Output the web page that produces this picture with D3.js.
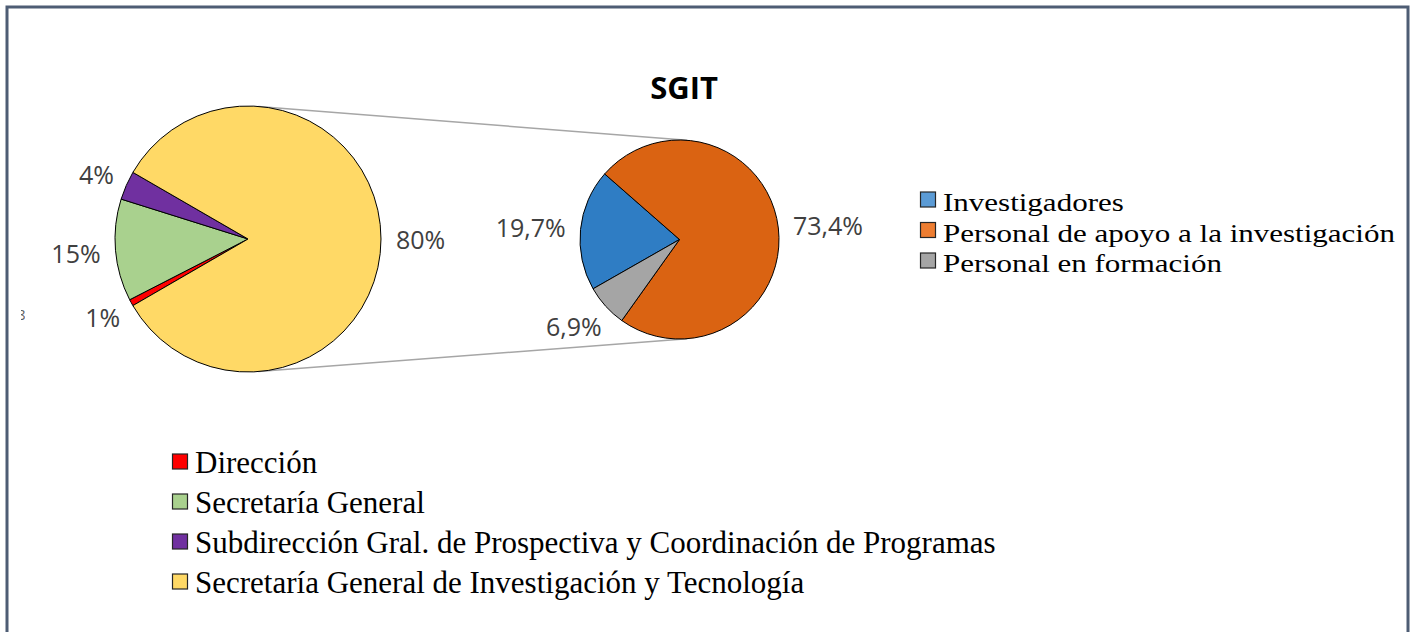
<!DOCTYPE html>
<html>
<head>
<meta charset="utf-8">
<script src="https://cdn.jsdelivr.net/npm/d3@7"></script>
<style>
  body { margin: 0; background: #fff; }
  svg { display: block; }
</style>
</head>
<body>
<svg width="1414" height="632"></svg>
<script>
// main pie (slice sizes as drawn; labels as printed on the chart)
const mainCategories = [
  "Dirección",
  "Secretaría General",
  "Subdirección Gral. de Prospectiva y Coordinación de Programas",
  "Secretaría General de Investigación y Tecnología"
];
const mainValues = [0.8, 12.4, 3.5, 83.3];
const mainLabels = ["1%", "15%", "4%", "80%"];
const mainColors = ["#ff0000", "#a9d18e", "#7030a0", "#ffd966"];

// second pie: breakdown of SGIT
const sgitCategories = ["Investigadores", "Personal de apoyo a la investigación", "Personal en formación"];
const sgitValues = [19.7, 73.4, 6.9];
const sgitLabels = ["19,7%", "73,4%", "6,9%"];
const sgitColors = ["#2f7dc4", "#da6312", "#a5a5a5"];
const sgitLegendColors = ["#5b9bd5", "#ed7d31", "#a5a5a5"];

const svg = d3.select("svg");
const deg = Math.PI / 180;

// frame
svg.append("rect")
  .attr("x", 7).attr("y", 7)
  .attr("width", 1401).attr("height", 640)
  .attr("fill", "none")
  .attr("stroke", "#4e5d74")
  .attr("stroke-width", 3);

const big = { cx: 248, cy: 239, r: 133 };
const small = { cx: 679.5, cy: 239.5, r: 99.5 };

// connector lines (outer tangents of the two circles)
const dist = small.cx - big.cx;
const phi = Math.asin((big.r - small.r) / dist);
[-1, 1].forEach(s => {
  const nx = Math.sin(phi), ny = s * Math.cos(phi);
  svg.append("line")
    .attr("x1", big.cx + big.r * nx).attr("y1", big.cy + big.r * ny)
    .attr("x2", small.cx + small.r * nx).attr("y2", small.cy + small.r * ny)
    .attr("stroke", "#a6a6a6")
    .attr("stroke-width", 1.5);
});

function drawPie(c, values, colors, labels, startDeg) {
  const pie = d3.pie().sort(null).value(d => d)
    .startAngle(startDeg * deg)
    .endAngle(startDeg * deg + 2 * Math.PI);
  const arcs = pie(values);
  const arc = d3.arc().innerRadius(0).outerRadius(c.r);

  const g = svg.append("g").attr("transform", `translate(${c.cx},${c.cy})`);
  g.selectAll("path")
    .data(arcs)
    .enter()
    .append("path")
    .attr("d", arc)
    .attr("fill", (d, i) => colors[i])
    .attr("stroke", "#000")
    .attr("stroke-width", 1);

  // outside-end labels
  g.selectAll(".lbl")
    .data(arcs)
    .enter()
    .append("text")
    .attr("class", "lbl")
    .attr("text-anchor", "middle")
    .attr("dominant-baseline", "central")
    .style("font-family", "'Open Sans', sans-serif")
    .style("font-size", "25px")
    .style("fill", "#404040")
    .text((d, i) => labels[i])
    .each(function(d) {
      const a = (d.startAngle + d.endAngle) / 2;
      const ux = Math.sin(a), uy = -Math.cos(a);
      const w = this.getComputedTextLength(), h = 28;
      const rr = c.r + 15;
      d3.select(this)
        .attr("x", rr * ux + ux * w / 2)
        .attr("y", rr * uy + uy * h / 2);
    });
}

// last slice of the main pie is centered on the right, facing the second pie
const lastSpan = mainValues[mainValues.length - 1] / d3.sum(mainValues) * 360;
drawPie(big, mainValues, mainColors, mainLabels, 90 + lastSpan / 2);
drawPie(small, sgitValues, sgitColors, sgitLabels, 240.3);

// title
svg.append("text")
  .attr("x", 684)
  .attr("y", 99)
  .attr("text-anchor", "middle")
  .style("font-family", "'Open Sans', sans-serif")
  .style("font-weight", "bold")
  .style("font-size", "31px")
  .style("fill", "#000")
  .text("SGIT");

// clipped remnant of a label at the left edge
svg.append("clipPath").attr("id", "edge")
  .append("rect").attr("x", 21).attr("y", 300).attr("width", 4).attr("height", 30);
svg.append("text")
  .attr("x", 17).attr("y", 320)
  .attr("clip-path", "url(#edge)")
  .style("font-family", "'Open Sans', sans-serif")
  .style("font-size", "15px")
  .style("fill", "#606060")
  .text("8");

// legends; widen glyphs when the rows are tight so lines don't collide
function legend(items, colors, x, y0, step, size, stretch) {
  const g = svg.append("g");
  items.forEach((name, i) => {
    const y = y0 + i * step;
    g.append("rect")
      .attr("x", x).attr("y", y - 19)
      .attr("width", 15).attr("height", 15)
      .attr("fill", colors[i])
      .attr("stroke", "#262626")
      .attr("stroke-width", 1.2);
    const t = g.append("text")
      .attr("x", x + 22.5)
      .attr("y", y)
      .style("font-family", "'Liberation Serif', serif")
      .style("font-size", size + "px")
      .style("fill", "#000")
      .text(name);
    if (stretch !== 1) {
      t.attr("textLength", t.node().getComputedTextLength() * stretch)
        .attr("lengthAdjust", "spacingAndGlyphs");
    }
  });
}

legend(sgitCategories, sgitLegendColors, 920.5, 211, 30.5, 26, 31 / 26);
legend(mainCategories, mainColors, 172.5, 473, 40, 31, 1);
</script>
</body>
</html>
